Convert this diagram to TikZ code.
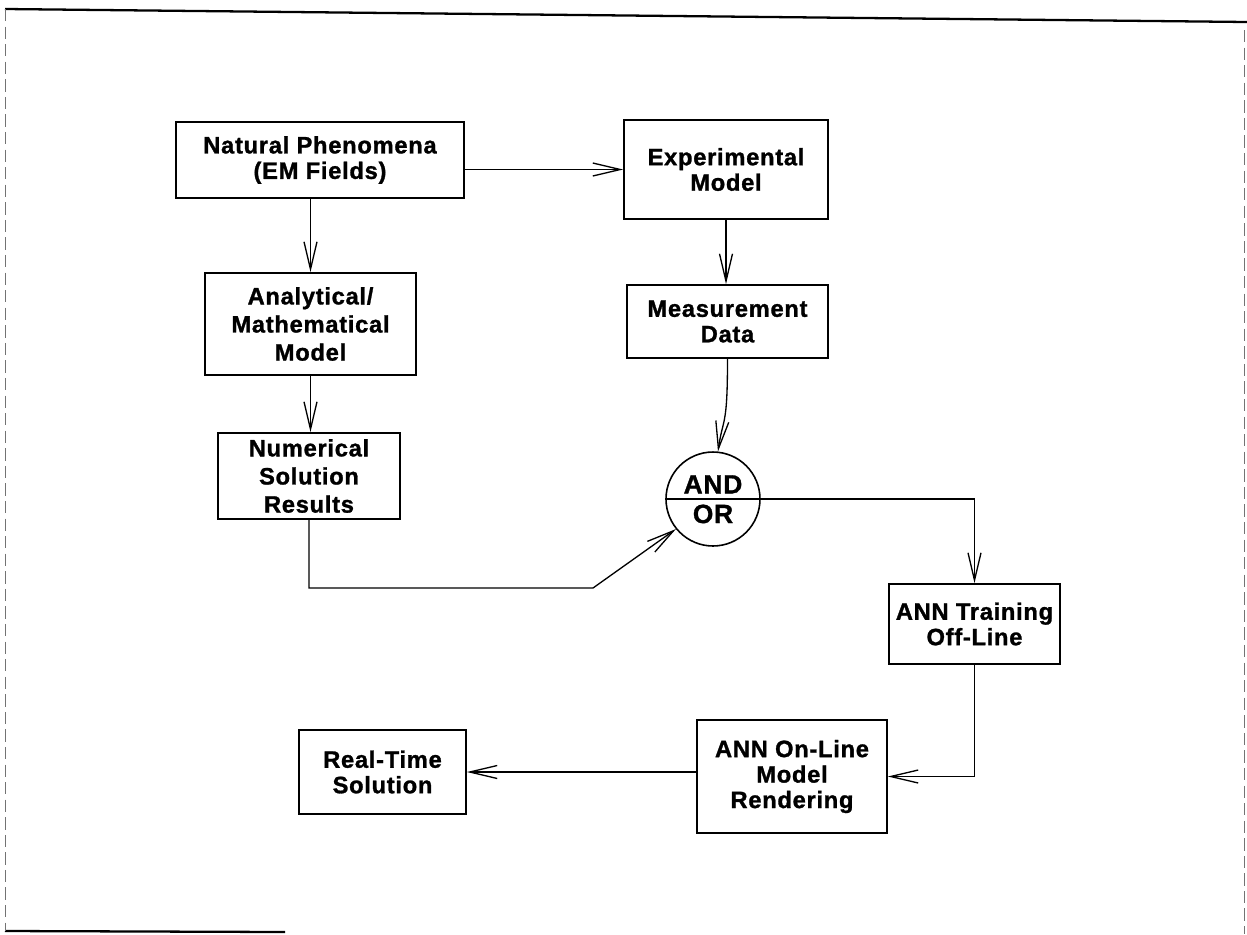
\documentclass[tikz,border=0pt]{standalone}
\usepackage{fontspec}
\setmainfont{Liberation Sans}[LetterSpace=3, BoldFeatures={FakeBold=1.2}]
\usetikzlibrary{arrows.meta}

\begin{document}
\begin{tikzpicture}[
  x=0.02cm, y=-0.02cm,
  every node/.style={inner sep=1pt},
  box/.style={draw, line width=1pt, align=center, inner sep=0pt,
    font=\fontsize{13.5}{14.5}\selectfont\bfseries},
  gate/.style={circle, draw, line width=0.9pt, minimum size=1.88cm, inner sep=0pt},
  gatetext/.style={font=\fontsize{15}{15}\selectfont\bfseries, inner sep=3pt},
  % open barbed heads, as in the scanned figure
  arrow/.style={draw, line width=0.75pt,
    -{Straight Barb[length=5.5mm, width=2.6mm, line width=0.75pt]}},
  rim/.style={line width=1.3pt},
  faint/.style={line width=0.5pt, black!55, dash pattern=on 7pt off 3pt}]

  \useasboundingbox (0,0) rectangle (1247,934);

  % page frame
  \draw[rim]   (5,9) -- (1247,22);
  \draw[rim]   (5,931) -- (285,932);
  \draw[faint] (5,9) -- (5,931);
  \draw[faint] (1244,30) -- (1244,934);

  % vertices
  \node[box, minimum width=5.76cm, minimum height=1.52cm] (nat)    at (320,160)   {Natural Phenomena\\(EM Fields)};
  \node[box, minimum width=4.08cm, minimum height=1.98cm] (exp)    at (726,169.5) {Experimental\\Model};
  \node[box, minimum width=4.22cm, minimum height=2.04cm] (ana)    at (310.5,324) {Analytical/\\[1.5pt]Mathematical\\[1.5pt]Model};
  \node[box, minimum width=4.02cm, minimum height=1.46cm] (meas)   at (727.5,321.5) {Measurement\\Data};
  \node[box, minimum width=3.64cm, minimum height=1.72cm] (num)    at (309,476)   {Numerical\\[1.5pt]Solution\\[1.5pt]Results};
  \node[gate] (gate) at (713,499) {};
  \node[box, minimum width=3.42cm, minimum height=1.60cm] (train)  at (974.5,624) {ANN Training\\Off-Line};
  \node[box, minimum width=3.80cm, minimum height=2.26cm] (online) at (792,776.5) {ANN On-Line\\Model\\Rendering};
  \node[box, minimum width=3.34cm, minimum height=1.68cm] (real)   at (382.5,772) {Real-Time\\Solution};

  % the AND/OR junction
  \draw[line width=0.9pt] (gate.west) -- (gate.east);
  \node[gatetext, anchor=south] (and) at (gate.center) {AND};
  \node[gatetext, anchor=north] (or)  at (gate.center) {OR};
  \coordinate (bend) at (593,588);

  % arrows
  \draw[arrow] (nat.east |- exp.west) -- (exp.west);
  \draw[arrow] (nat.south -| ana.north) -- (ana.north);
  \draw[arrow] (ana.south) -- (ana.south |- num.north);
  \draw[arrow] (exp.south) -- (exp.south |- meas.north);
  \draw[arrow] (meas.south) .. controls +(0,70) and +(5,-35) .. (gate.84);
  \draw[arrow] (num.south) |- (bend) -- (gate.219);
  \draw[arrow] (gate.east) -| (train.north);
  \draw[arrow] (train.south) |- (online.east);
  \draw[arrow] (online.west |- real.east) -- (real.east);
\end{tikzpicture}
\end{document}
